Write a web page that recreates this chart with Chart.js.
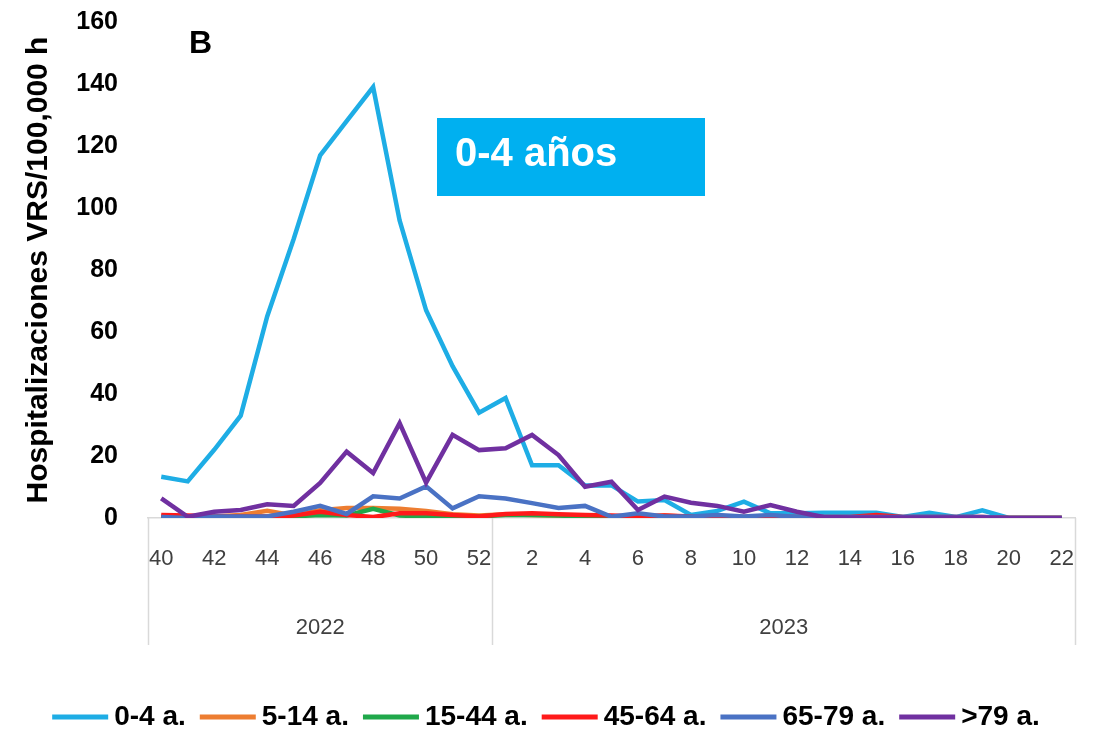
<!DOCTYPE html>
<html lang="es">
<head>
<meta charset="utf-8">
<title>Hospitalizaciones VRS por grupo de edad</title>
<script src="https://cdn.jsdelivr.net/npm/chart.js@4.4.1/dist/chart.umd.min.js"></script>
<style>
  html, body { margin: 0; padding: 0; background: #ffffff; }
  #wrap { position: relative; width: 1097px; height: 732px; }
</style>
</head>
<body>
<div id="wrap"><canvas id="chart" width="1097" height="732"></canvas></div>
<script>
// Epidemiological weeks: 40-52 of 2022, then 1-22 of 2023
const weeks = ['40','41','42','43','44','45','46','47','48','49','50','51','52',
               '1','2','3','4','5','6','7','8','9','10','11','12','13','14','15','16','17','18','19','20','21','22'];
const years = ['2022', '2023'];
const weeksPerYear = [13, 22];

const seriesNames = ['0-4 a.', '5-14 a.', '15-44 a.', '45-64 a.', '65-79 a.', '>79 a.'];
const seriesColors = ['#1EADE5', '#ED7D31', '#1FA84A', '#FF1A1A', '#4A72C4', '#7030A0'];

// Hospitalizations per 100,000 inhabitants
const age0to4 = [13.3, 11.8, 22, 33, 65, 90, 117, 128, 139, 96, 67, 49, 34,
                 38.7, 17, 17, 10.5, 10.5, 5.3, 5.8, 1, 2.3, 5.3, 1.5, 1.5, 1.7, 1.7, 1.7, 0.3, 1.7, 0.3, 2.5, 0, 0, 0];
const age5to14 = [0.5, 0.3, 0.5, 1, 2.3, 0.8, 2.5, 3.2, 3.2, 3, 2.3, 1.2, 0.8,
                  1.2, 1, 0.8, 0.5, 0.5, 0.3, 0.8, 0.3, 0.3, 0.3, 0.2, 0.2, 0.2, 0.2, 0.2, 0.2, 0.2, 0.2, 0.2, 0, 0, 0];
const age15to44 = [0.3, 0.2, 0.3, 0.3, 0.3, 0.5, 1, 0.8, 3, 0.8, 0.5, 0.5, 0.5,
                   1, 1, 0.8, 0.5, 0.5, 0.3, 0.3, 0.3, 0.2, 0.2, 0.2, 0.2, 0.2, 0.2, 0.2, 0.2, 0.2, 0.2, 0.2, 0, 0, 0];
const age45to64 = [1, 0.8, 0.5, 0.5, 0.5, 0.8, 2, 1, 0.3, 1.5, 1.5, 1, 0.5,
                   1.3, 1.5, 1.2, 1, 0.8, 0.5, 0.8, 0.5, 0.3, 0.3, 0.3, 0.3, 0.3, 0.3, 1, 0.3, 0.3, 0.3, 0.3, 0, 0, 0];
const age65to79 = [0.3, 0, 0.5, 0.5, 0.5, 2, 3.9, 1.3, 7, 6.3, 10.2, 3.1, 7,
                   6.3, 4.8, 3.2, 3.9, 0.4, 1.5, 0.5, 0.5, 1, 0.5, 1, 0.3, 0.3, 0.3, 0.3, 0.3, 0.3, 0.3, 0.3, 0, 0, 0];
const age80plus = [6.3, 0.4, 2, 2.6, 4.4, 3.9, 11.3, 21.4, 14.5, 30.6, 11.4, 26.8, 21.9,
                   22.5, 26.8, 20.3, 10.1, 11.7, 2.6, 6.9, 4.9, 3.9, 2, 4.2, 2, 0.3, 0.2, 0.2, 0.2, 0.2, 0.2, 0.2, 0, 0, 0];

const yTicks = [0, 20, 40, 60, 80, 100, 120, 140, 160];
const panelLetter = 'B';
const panelTag = '0-4 años';
const yTitle = 'Hospitalizaciones VRS/100,000 h';

const FONT = "'Liberation Sans', Arial, sans-serif";

const allSeries = [age0to4, age5to14, age15to44, age45to64, age65to79, age80plus];
const datasets = allSeries.map((vals, k) => ({
  label: seriesNames[k],
  data: vals,
  borderColor: seriesColors[k],
  backgroundColor: seriesColors[k],
  borderWidth: 4.5,
  pointRadius: 0,
  tension: 0,
  order: allSeries.length - k   // later series are drawn on top
}));

// Year band below the week labels, legend row, panel letter and tag box
const decorations = {
  id: 'decorations',
  afterDraw(chart) {
    const ctx = chart.ctx;
    const area = chart.chartArea;
    const x = chart.scales.x;
    const yTop = area.bottom;
    const yBottom = 645;
    // separator positions: edges of each year's block of weeks
    const edges = [area.left];
    let idx = 0;
    weeksPerYear.forEach((n, k) => {
      idx += n;
      if (k < weeksPerYear.length - 1) {
        edges.push((x.getPixelForValue(idx - 1) + x.getPixelForValue(idx)) / 2);
      }
    });
    edges.push(area.right);
    ctx.save();
    ctx.strokeStyle = '#D9D9D9';
    ctx.lineWidth = 1.5;
    edges.forEach(e => {
      ctx.beginPath();
      ctx.moveTo(Math.round(e) + 0.5, yTop);
      ctx.lineTo(Math.round(e) + 0.5, yBottom);
      ctx.stroke();
    });
    ctx.fillStyle = '#404040';
    ctx.font = '22px ' + FONT;
    ctx.textAlign = 'center';
    ctx.textBaseline = 'middle';
    years.forEach((yr, k) => {
      ctx.fillText(yr, (edges[k] + edges[k + 1]) / 2, 628);
    });

    // legend row
    const lineLen = 56, gapIn = 6, gapOut = 14, legendY = 717;
    ctx.font = 'bold 28px ' + FONT;
    const widths = chart.data.datasets.map(d => ctx.measureText(d.label).width);
    const total = widths.reduce((s, w) => s + w + lineLen + gapIn, 0) + gapOut * (widths.length - 1);
    let lx = 546 - total / 2;
    ctx.textAlign = 'left';
    chart.data.datasets.forEach((d, k) => {
      ctx.strokeStyle = d.borderColor;
      ctx.lineWidth = 5;
      ctx.beginPath();
      ctx.moveTo(lx, legendY);
      ctx.lineTo(lx + lineLen, legendY);
      ctx.stroke();
      lx += lineLen + gapIn;
      ctx.fillStyle = '#000000';
      ctx.fillText(d.label, lx, legendY);
      lx += widths[k] + gapOut;
    });

    // panel letter
    ctx.fillStyle = '#000000';
    ctx.font = 'bold 32px ' + FONT;
    ctx.textAlign = 'left';
    ctx.fillText(panelLetter, 189, 44);

    // tag box
    ctx.fillStyle = '#00B0F0';
    ctx.fillRect(437, 118, 268, 78);
    ctx.fillStyle = '#ffffff';
    ctx.font = 'bold 40px ' + FONT;
    ctx.fillText(panelTag, 455, 155);
    ctx.restore();
  }
};

Chart.defaults.font.family = FONT;
Chart.defaults.color = '#000000';

new Chart(document.getElementById('chart'), {
  type: 'line',
  data: { labels: weeks, datasets },
  options: {
    responsive: false,
    animation: false,
    layout: { padding: { top: 22, right: 22, left: 21, bottom: 0 } },
    plugins: {
      tooltip: { enabled: false },
      legend: { display: false }
    },
    scales: {
      x: {
        offset: true,
        grid: { display: false, drawTicks: false },
        border: { display: true, color: '#D9D9D9', width: 1.5 },
        ticks: {
          autoSkip: false,
          maxRotation: 0,
          padding: 28,
          color: '#404040',
          font: { family: FONT, size: 22 },
          callback: (v, i) => (i % 2 === 0 ? weeks[i] : '')
        },
        afterFit(scale) {
          scale.height = 214;
          scale.paddingLeft = 0;
          scale.paddingRight = 0;
        }
      },
      y: {
        min: 0,
        max: 160,
        afterBuildTicks(scale) { scale.ticks = yTicks.map(v => ({ value: v })); },
        grid: { display: false, drawTicks: false },
        border: { display: false },
        ticks: {
          padding: 30,
          color: '#000000',
          font: { family: FONT, size: 25, weight: 'bold' }
        },
        title: {
          display: true,
          text: yTitle,
          color: '#000000',
          padding: 0,
          font: { family: FONT, size: 30, weight: 'bold' }
        },
        afterFit(scale) {
          scale.width = 127;
          scale.paddingTop = 0;
          scale.paddingBottom = 0;
        }
      }
    }
  },
  plugins: [decorations]
});
</script>
</body>
</html>
